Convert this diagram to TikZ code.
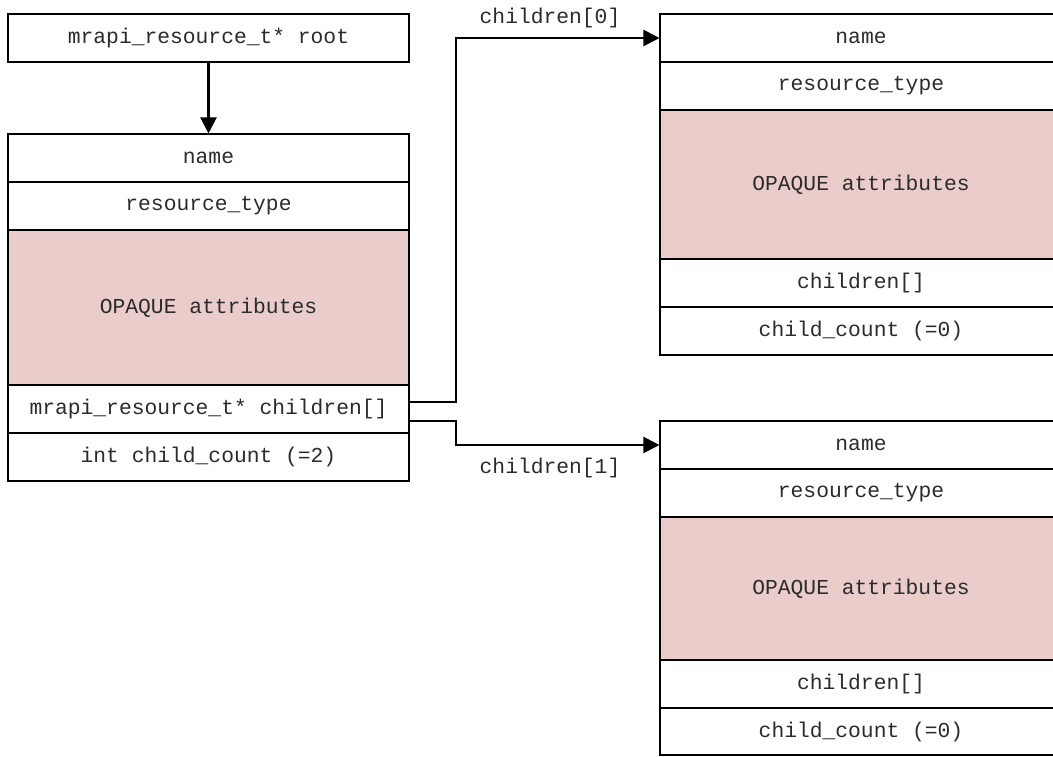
\documentclass[tikz,border=0pt]{standalone}
\usepackage{fontspec}
\setmonofont{Liberation Mono}
\usetikzlibrary{arrows.meta}
\definecolor{opaquefill}{HTML}{EACCCA}
\definecolor{txt}{HTML}{2B2B2B}
\tikzset{
  cell/.style={draw=black, line width=1.1pt, fill=white, inner sep=0pt,
    text=txt, font=\ttfamily\fontsize{21.3}{25}\selectfont},
  lcell/.style={cell, minimum width=401pt},
  rcell/.style={cell, minimum width=402pt},
  opq/.style={fill=opaquefill},
  ptr/.style={line width=2.1pt, -{Triangle[length=16pt,width=16pt]}},
  lbl/.style={text=txt, inner sep=0pt, font=\ttfamily\fontsize{21.3}{25}\selectfont}
}
\begin{document}
\begin{tikzpicture}[x=1pt, y=-1pt]
\useasboundingbox (0,0) rectangle (1053,756);

% root pointer
\node[lcell, minimum height=48pt] (root) at (208.5,38) {mrapi\_resource\_t* root};

% root structure
\node[lcell, minimum height=48pt]  (l1) at (208.5,158)   {name};
\node[lcell, minimum height=48pt]  (l2) at (208.5,206)   {resource\_type};
\node[lcell, opq, minimum height=155pt] (l3) at (208.5,307.5) {OPAQUE attributes};
\node[lcell, minimum height=48pt]  (l4) at (208.5,409)   {mrapi\_resource\_t* children[]};
\node[lcell, minimum height=48pt]  (l5) at (208.5,457)   {int child\_count (=2)};

% first child
\node[rcell, minimum height=48pt]  (a1) at (861,38)    {name};
\node[rcell, minimum height=48pt]  (a2) at (861,86)    {resource\_type};
\node[rcell, opq, minimum height=149pt] (a3) at (861,184.5) {OPAQUE attributes};
\node[rcell, minimum height=48pt]  (a4) at (861,283)   {children[]};
\node[rcell, minimum height=48pt]  (a5) at (861,331)   {child\_count (=0)};

% second child
\node[rcell, minimum height=48pt]  (b1) at (861,445)   {name};
\node[rcell, minimum height=48pt]  (b2) at (861,493)   {resource\_type};
\node[rcell, opq, minimum height=143pt] (b3) at (861,588.5) {OPAQUE attributes};
\node[rcell, minimum height=48pt]  (b4) at (861,684)   {children[]};
\node[rcell, minimum height=47pt]  (b5) at (861,731.5) {child\_count (=0)};

% pointers
\draw[ptr] (root.south) -- (l1.north);
\draw[ptr] ([yshift=7pt]l4.east) -- ++(46pt,0) |- (a1.west);
\draw[ptr] ([yshift=-12pt]l4.east) -- ++(46pt,0) |- (b1.west);

% edge labels
\node[lbl] (c0) at (550,18)  {children[0]};
\node[lbl] (c1) at (550,468) {children[1]};
\end{tikzpicture}
\end{document}
